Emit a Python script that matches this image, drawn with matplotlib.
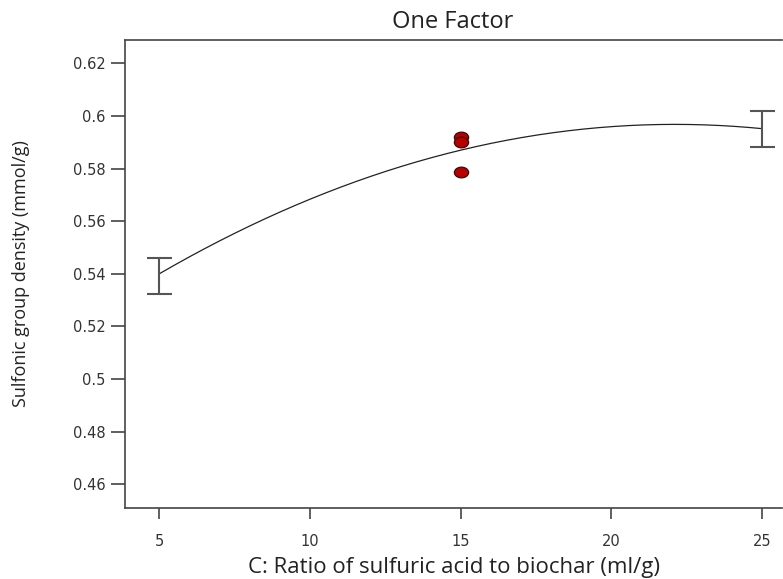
import numpy as np
import matplotlib
matplotlib.use("Agg")
import matplotlib.pyplot as plt
from matplotlib.path import Path
from matplotlib.transforms import Affine2D

# ---- data ----
design_x = [5, 25]
design_mean = [0.540, 0.5952]
design_low = [0.5324, 0.5883]
design_high = [0.5461, 0.6020]

center_x = [15, 15, 15]
center_y = [0.5920, 0.5901, 0.5788]

# model prediction at the three factor levels (quadratic one-factor model)
fit_x = [5, 15, 25]
fit_y = [0.540, 0.587, 0.5952]

xticks = [5, 10, 15, 20, 25]
yticks = [0.46, 0.48, 0.50, 0.52, 0.54, 0.56, 0.58, 0.60, 0.62]
ytick_labels = ["0.46", "0.48", "0.5", "0.52", "0.54", "0.56", "0.58", "0.6", "0.62"]

W, H = 783, 579
fig = plt.figure(figsize=(W / 100, H / 100), dpi=100)
left, right, top, bottom = 125, 782, 39.5, 507.5
ax = fig.add_axes([left / W, (H - bottom) / H, (right - left) / W, (bottom - top) / H])

ax.set_xlim(3.86, 25.67)
ax.set_ylim(0.4511, 0.6291)

coef = np.polyfit(fit_x, fit_y, 2)
xs = np.linspace(min(fit_x), max(fit_x), 200)
ax.plot(xs, np.polyval(coef, xs), color="#222222", lw=0.9, zorder=2)

yerr = [np.array(design_mean) - np.array(design_low), np.array(design_high) - np.array(design_mean)]
ax.errorbar(design_x, design_mean, yerr=yerr, fmt="none", ecolor="#555555",
            elinewidth=1.5, capsize=9, capthick=1.5, zorder=3)

circ = Path.unit_circle()
ell = Affine2D().scale(1.0, 0.75).transform_path(circ)
ellipse_marker = Path(ell.vertices, circ.codes)
ax.scatter(center_x, center_y, marker=ellipse_marker, s=105, facecolor="#b80000",
           edgecolor="#3a0a0a", linewidth=0.9, zorder=4)

for s in ["left", "bottom", "top"]:
    ax.spines[s].set_color("#444444")
    ax.spines[s].set_linewidth(1.2)
ax.spines["right"].set_visible(False)

ax.set_xticks(xticks)
ax.set_xticklabels([str(v) for v in xticks])
ax.set_yticks(yticks)
ax.set_yticklabels(ytick_labels)
ax.tick_params(axis="x", direction="out", length=8, width=1.2, color="#444444",
               pad=11, labelsize=10.5, labelcolor="#333333")
ax.tick_params(axis="y", direction="out", length=10, width=1.2, color="#444444",
               pad=4, labelsize=10.5, labelcolor="#333333")
for lab in ax.get_xticklabels() + ax.get_yticklabels():
    lab.set_family(["DejaVu Sans"])

ax.set_xlabel("C: Ratio of sulfuric acid to biochar (ml/g)", fontsize=16,
              family=["Open Sans", "DejaVu Sans"], color="#222222", labelpad=6)
ax.set_ylabel("Sulfonic group density (mmol/g)", fontsize=13,
              family=["Open Sans", "DejaVu Sans"], color="#222222")
ax.yaxis.set_label_coords((30 - left) / (right - left), 0.5)
fig.text((left + 781) / 2 / W, 1 - 22 / H, "One Factor", ha="center", va="center",
         fontsize=17, family=["Open Sans", "DejaVu Sans"], color="#222222")

fig.savefig("out.png", dpi=100)
